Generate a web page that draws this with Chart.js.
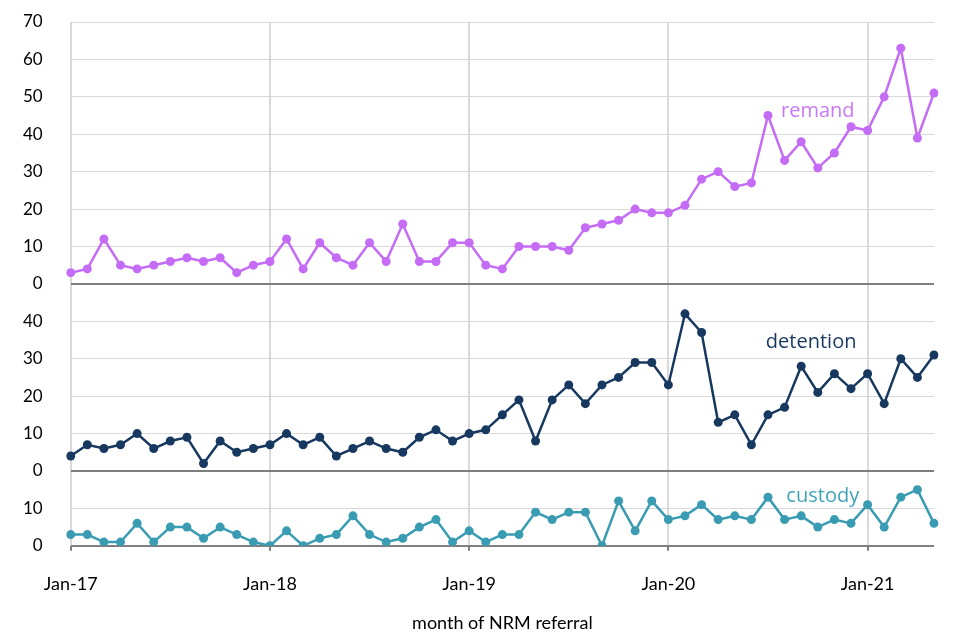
<!DOCTYPE html>
<html>
<head>
<meta charset="utf-8">
<script src="https://cdn.jsdelivr.net/npm/chart.js@4/dist/chart.umd.min.js"></script>
<style>
  html, body { margin: 0; padding: 0; background: #fff; }
  #wrap { width: 960px; height: 640px; }
</style>
</head>
<body>
<div id="wrap"><canvas id="chart"></canvas></div>
<script>
// months Jan-17 .. May-21
var monthNames = ['Jan','Feb','Mar','Apr','May','Jun','Jul','Aug','Sep','Oct','Nov','Dec'];
var years = ['17','18','19','20','21'];
var months = [];
years.forEach(function(y) {
  monthNames.forEach(function(m) { months.push(m + '-' + y); });
});
months = months.slice(0, 53);

var remand = [3,4,12,5,4,5,6,7,6,7,3,5,
              6,12,4,11,7,5,11,6,16,6,6,11,
              11,5,4,10,10,10,9,15,16,17,20,19,
              19,21,28,30,26,27,45,33,38,31,35,42,
              41,50,63,39,51];
var detention = [4,7,6,7,10,6,8,9,2,8,5,6,
                 7,10,7,9,4,6,8,6,5,9,11,8,
                 10,11,15,19,8,19,23,18,23,25,29,29,
                 23,42,37,13,15,7,15,17,28,21,26,22,
                 26,18,30,25,31];
var custody = [3,3,1,1,6,1,5,5,2,5,3,1,
               0,4,0,2,3,8,3,1,2,5,7,1,
               4,1,3,3,9,7,9,9,0,12,4,12,
               7,8,11,7,8,7,13,7,8,5,7,6,
               11,5,13,15,6];

// panel ranges (top of each lower panel is hidden where it meets the one above)
var remandMax = 70, detentionMax = 50, custodyMax = 20;

var purple = '#c56cf6';
var navy = '#17385f';
var teal = '#3a9cb2';
var lightGrid = '#d9d9d9';
var darkLine = '#7f7f7f';

function panelAxis(max, weight) {
  return {
    type: 'linear',
    position: 'left',
    stack: 'panels',
    stackWeight: weight,
    min: 0,
    max: max,
    border: { display: false },
    grid: {
      drawTicks: true,
      tickLength: 28,
      tickColor: 'rgba(0,0,0,0)',
      color: function(ctx) {
        if (ctx.tick.value === 0) return darkLine;
        if (ctx.tick.value === max && max !== remandMax) return 'rgba(0,0,0,0)';
        return lightGrid;
      },
      lineWidth: function(ctx) { return ctx.tick.value === 0 ? 2 : 1; }
    },
    ticks: {
      stepSize: 10,
      autoSkip: false,
      padding: 0,
      color: '#000',
      font: { family: 'Lato', size: 17 },
      callback: function(v) { return (v === max && max !== remandMax) ? '' : v; }
    }
  };
}

// series names written next to their lines
var seriesLabels = {
  id: 'seriesLabels',
  afterDatasetsDraw: function(chart) {
    var ctx = chart.ctx, x = chart.scales.x;
    var items = [
      { text: 'remand', color: '#c979f7', scale: 'yR', idx: 45.0, val: 46 },
      { text: 'detention', color: navy, scale: 'yD', idx: 44.6, val: 34.4 },
      { text: 'custody', color: '#40a3b8', scale: 'yC', idx: 45.3, val: 13.2 }
    ];
    ctx.save();
    ctx.font = '20px "Open Sans"';
    ctx.textAlign = 'center';
    ctx.textBaseline = 'middle';
    items.forEach(function(it) {
      ctx.fillStyle = it.color;
      ctx.fillText(it.text, x.getPixelForValue(it.idx), chart.scales[it.scale].getPixelForValue(it.val));
    });
    ctx.restore();
  }
};

function series(label, data, color, axis) {
  return {
    label: label,
    data: data,
    yAxisID: axis,
    borderColor: color,
    backgroundColor: color,
    pointBackgroundColor: color,
    pointBorderWidth: 0,
    pointRadius: 4.5,
    borderWidth: 2.5,
    tension: 0,
    fill: false
  };
}

new Chart(document.getElementById('chart'), {
  type: 'line',
  data: {
    labels: months,
    datasets: [
      series('remand', remand, purple, 'yR'),
      series('detention', detention, navy, 'yD'),
      series('custody', custody, teal, 'yC')
    ]
  },
  options: {
    responsive: true,
    maintainAspectRatio: false,
    animation: false,
    layout: { padding: { top: 22, right: 26, left: 23, bottom: 6 } },
    plugins: {
      legend: { display: false },
      tooltip: { enabled: false }
    },
    scales: {
      x: {
        type: 'category',
        offset: false,
        border: { display: false },
        grid: {
          tickLength: 5,
          color: function(ctx) {
            var l = months[ctx.index];
            return (l && l.indexOf('Jan') === 0) ? lightGrid : 'rgba(0,0,0,0)';
          },
          tickColor: function(ctx) {
            var l = months[ctx.index];
            return (l && l.indexOf('Jan') === 0) ? darkLine : 'rgba(0,0,0,0)';
          },
          lineWidth: 2
        },
        ticks: {
          autoSkip: false,
          maxRotation: 0,
          padding: 23,
          color: '#000',
          font: { family: 'Lato', size: 18 },
          callback: function(v) {
            var l = this.getLabelForValue(v);
            return l.indexOf('Jan') === 0 ? l : '';
          }
        },
        title: {
          display: true,
          text: 'month of NRM referral',
          color: '#000',
          font: { family: 'Lato', size: 18 },
          padding: { top: -6, bottom: 0 }
        }
      },
      yC: panelAxis(custodyMax, 20),
      yD: panelAxis(detentionMax, 50),
      yR: panelAxis(remandMax, 70)
    }
  },
  plugins: [seriesLabels]
});
</script>
</body>
</html>
